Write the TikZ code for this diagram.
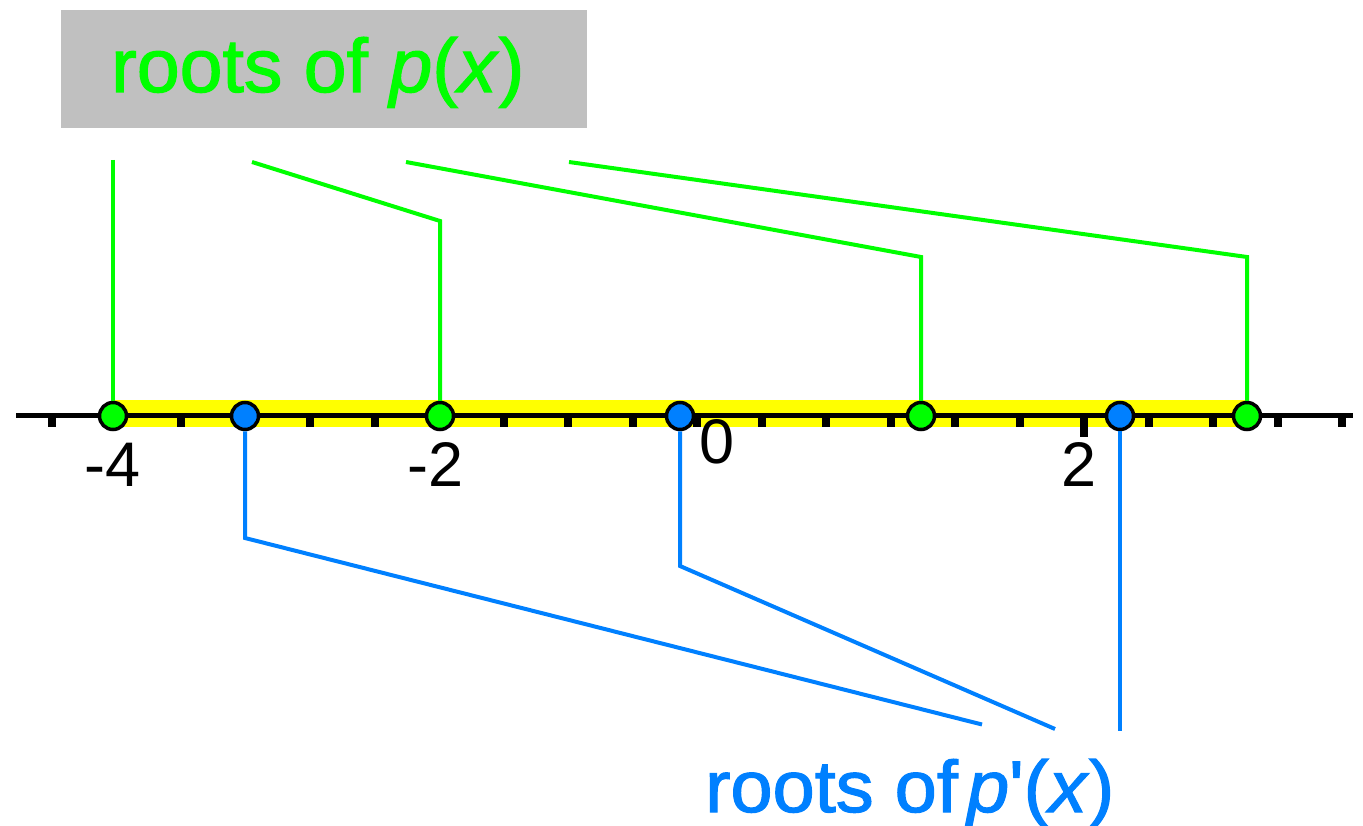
\documentclass[tikz,border=0pt]{standalone}
\usepackage{fontspec}
\setmainfont{Liberation Sans}[Ligatures=TeXOff]
\newfontfamily\capfont{Liberation Sans}[Ligatures=TeXOff, FakeBold=1.6]
\usepackage{graphicx}
\definecolor{rootgreen}{RGB}{0,255,0}
\definecolor{critblue}{RGB}{0,128,255}
\definecolor{boxgray}{RGB}{192,192,192}
\definecolor{bandyellow}{RGB}{255,255,0}
\tikzset{
  rootdot/.style={circle, draw=black, line width=3.5pt, fill=rootgreen, minimum size=27pt, inner sep=0pt},
  critdot/.style={rootdot, fill=critblue},
  gline/.style={draw=rootgreen, line width=4pt},
  bline/.style={draw=critblue, line width=4pt},
  ticklabel/.style={font=\fontsize{63}{70}\selectfont, inner sep=0pt, anchor=base},
  tickmark/.style={fill=black, draw=none},
  caption/.style={anchor=base west, inner sep=0pt, font=\capfont},
}
\begin{document}
\begin{tikzpicture}[x=1pt, y=-1pt]
  \useasboundingbox (0,0) rectangle (1363,826);

  % interval spanned by the roots of p
  \fill[bandyellow] (113,400) rectangle (1247,427);

  % number line
  \draw[line width=5pt] (16,415.5) -- (1353,415.5);
  \foreach \k in {0,...,20} {
    \pgfmathsetmacro{\tx}{52+64.5*\k}
    \fill[tickmark] (\tx-4,418) rectangle (\tx+4,427);
  }
  \fill[tickmark] (1084-4,418) rectangle (1084+4,437);

  \node[ticklabel] (lm4) at (113,486) {-4};
  \node[ticklabel] (lm2) at (436,486) {-2};
  \node[ticklabel] (l0)  at (717,463) {0};
  \node[ticklabel] (l2)  at (1079,486) {2};

  % roots of p and of p'
  \node[rootdot] (r1) at (113,416) {};
  \node[rootdot] (r2) at (440,416) {};
  \node[rootdot] (r3) at (921,416) {};
  \node[rootdot] (r4) at (1247,416) {};
  \node[critdot] (d1) at (245,416) {};
  \node[critdot] (d2) at (680,416) {};
  \node[critdot] (d3) at (1120,416) {};

  % leader lines to the roots of p
  \coordinate (g1top) at (113,160);
  \coordinate (g2start) at (252,162);
  \coordinate (g2bend) at (440,221);
  \coordinate (g3start) at (406,162);
  \coordinate (g3bend) at (921,257);
  \coordinate (g4start) at (569,162);
  \coordinate (g4bend) at (1247,257);
  \draw[gline] (g1top) -- (r1);
  \draw[gline] (g2start) -- (g2bend) -- (r2);
  \draw[gline] (g3start) -- (g3bend) -- (r3);
  \draw[gline] (g4start) -- (g4bend) -- (r4);

  % leader lines to the roots of p'
  \coordinate (b1bend) at (245,538);
  \coordinate (b1end) at (982,724.5);
  \coordinate (b2bend) at (680,566);
  \coordinate (b2end) at (1055,729);
  \coordinate (b3end) at (1120,731);
  \draw[bline] (d1) -- (b1bend) -- (b1end);
  \draw[bline] (d2) -- (b2bend) -- (b2end);
  \draw[bline] (d3) -- (b3end);

  % captions
  \node[fill=boxgray, inner sep=0pt, minimum width=526pt, minimum height=118pt, anchor=north west] (pbox) at (61,10) {};
  \node[caption, text=rootgreen] (ptext) at (111,92)
    {\resizebox{413pt}{55pt}{roots of \textit{p}(\textit{x})}};
  \node[caption, text=critblue] (dtext) at (705,812)
    {\resizebox{409pt}{53pt}{roots of\hspace{0.12em}\textit{p}'(\textit{x})}};
\end{tikzpicture}
\end{document}
